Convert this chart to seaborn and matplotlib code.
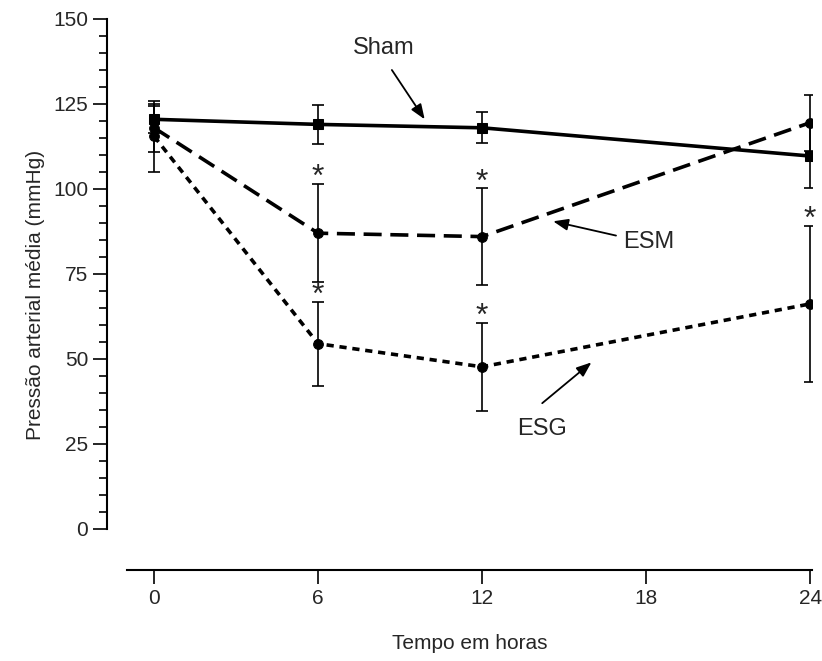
"""
pressao arterial media vs tempo - Sham / ESM / ESG
"""
import matplotlib as mpl
mpl.use('Agg')
from matplotlib import pyplot as plt
import seaborn as sns
import numpy as np

sns.set_style('ticks')
plt.rcParams['font.family'] = ['Liberation Sans', 'DejaVu Sans']

hours = [0, 6, 12, 24]

sham_mean = [120.5, 119.0, 118.0, 109.7]
sham_err = [4.0, 5.7, 4.5, 9.5]

esm_mean = [118.0, 87.0, 86.0, 119.5]
esm_err = [7.0, 14.5, 14.3, 8.2]

esg_mean = [115.5, 54.5, 47.7, 66.2]
esg_err = [10.5, 12.3, 12.9, 23.0]

# hours with significance mark
stars_esm = [6, 12]
stars_esg = [6, 12, 24]

x_ticks = [0, 6, 12, 18, 24]
y_ticks = [0, 25, 50, 75, 100, 125, 150]

fig = plt.figure(figsize=(8.22, 6.61), dpi=100)
ax = fig.add_axes([127/822, 1 - 570/661, (812-127)/822, (570-19)/661])

series = [
    (sham_mean, sham_err, 's', None),
    (esm_mean, esm_err, 'o', (5, 2.4)),
    (esg_mean, esg_err, 'o', (2, 1.6)),
]
for mean, err, mk, dash in series:
    ax.errorbar(hours, mean, yerr=err, fmt='none', ecolor='k', elinewidth=1.2,
                capsize=4.5, capthick=1.2, zorder=2)
    sns.lineplot(x=hours, y=mean, ax=ax, color='k', lw=2.6, marker=mk,
                 markersize=7, markeredgecolor='k', markerfacecolor='k')
    if dash is not None:
        ax.lines[-1].set_dashes(dash)

def put_stars(hs, mean, err):
    for h in hs:
        i = hours.index(h)
        ax.annotate('*', (h, mean[i] + err[i]), xytext=(0, 4), textcoords='offset points',
                    ha='center', va='center', fontsize=23)

put_stars(stars_esm, esm_mean, esm_err)
put_stars(stars_esg, esg_mean, esg_err)

arrow = dict(arrowstyle='-|>,head_length=0.9,head_width=0.35', color='k', lw=1.3,
             shrinkA=0, shrinkB=0)
ax.annotate('', xy=(9.9, 120.5), xytext=(8.7, 135.0), arrowprops=arrow)
ax.text(8.4, 141.5, 'Sham', ha='center', va='center', fontsize=17)
ax.annotate('', xy=(14.6, 90.5), xytext=(16.9, 86.3), arrowprops=arrow)
ax.text(18.1, 84.5, 'ESM', ha='center', va='center', fontsize=17)
ax.annotate('', xy=(16.0, 49.0), xytext=(14.2, 37.0), arrowprops=arrow)
ax.text(14.2, 29.5, 'ESG', ha='center', va='center', fontsize=17)

ax.set_xlim(-0.99, 24.07)
ax.set_ylim(-12.06, 150)
ax.set_xticks(x_ticks)
ax.set_yticks(y_ticks)
ax.set_yticks(np.arange(0, 151, 5), minor=True)
ax.tick_params(axis='both', which='major', labelsize=15, length=10, width=1.2, color='k')
ax.tick_params(axis='y', which='minor', length=6, width=1.2, color='k')

sns.despine(ax=ax)
ax.spines['left'].set_position(('outward', 14.4))
ax.spines['left'].set_bounds(0, 150)
for s in ['left', 'bottom']:
    ax.spines[s].set_linewidth(1.5)
    ax.spines[s].set_color('k')

ax.set_xlabel('Tempo em horas', fontsize=15, labelpad=19)
ax.set_ylabel('Pressão arterial média (mmHg)', fontsize=15, labelpad=6)

fig.savefig('out.png', dpi=100)
